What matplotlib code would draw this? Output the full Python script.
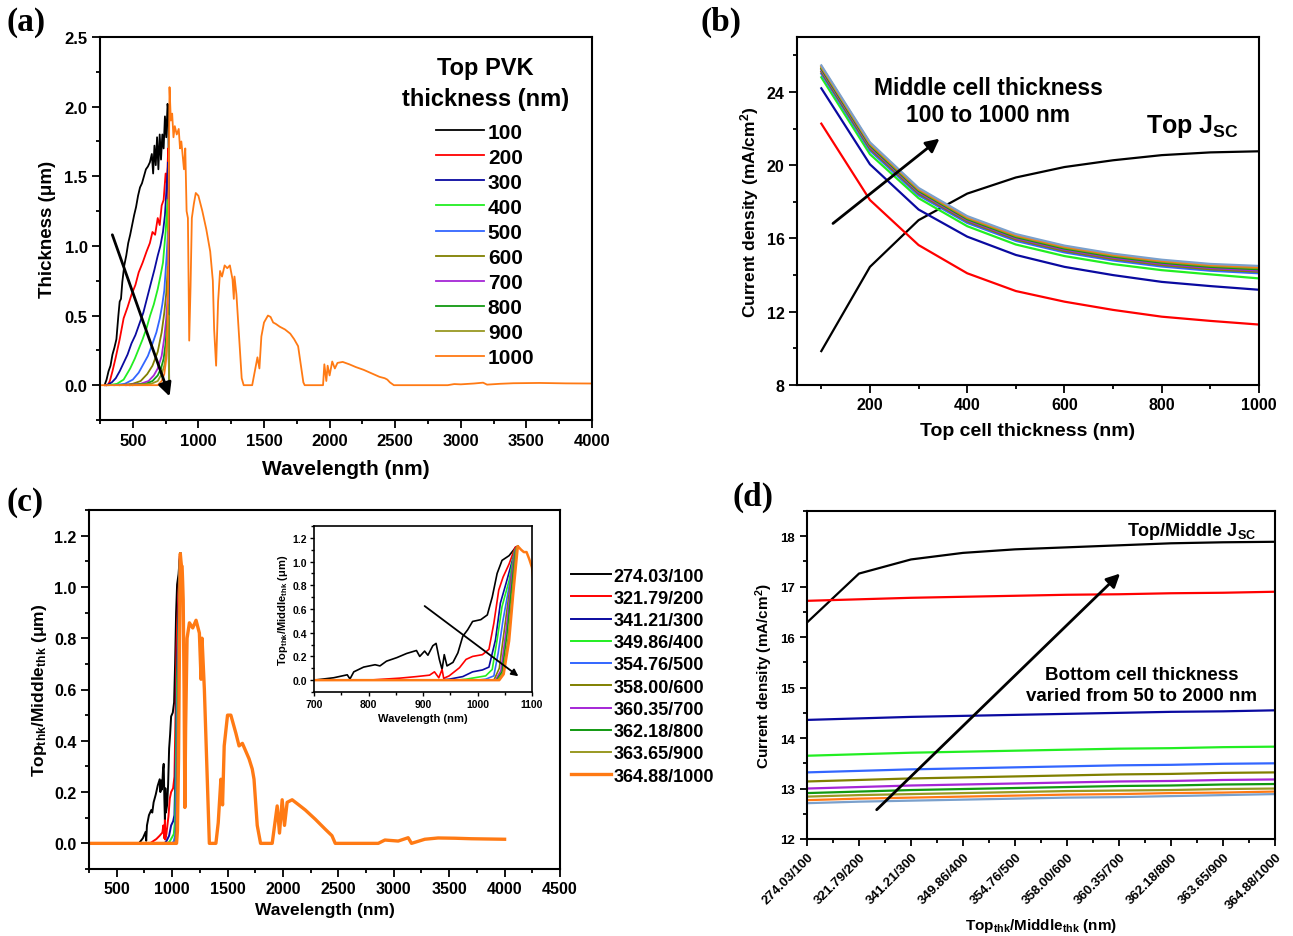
import matplotlib
matplotlib.use("Agg")
import matplotlib.pyplot as plt
from matplotlib.ticker import MultipleLocator

plt.rcParams["font.family"] = ["Liberation Sans", "DejaVu Sans"]
plt.rcParams["font.weight"] = "bold"
plt.rcParams["axes.labelweight"] = "bold"
plt.rcParams["axes.linewidth"] = 1.5
plt.rcParams["mathtext.fontset"] = "custom"
plt.rcParams["mathtext.rm"] = "Liberation Sans:bold"
plt.rcParams["mathtext.bf"] = "Liberation Sans:bold"
plt.rcParams["mathtext.it"] = "Liberation Sans:bold:italic"
plt.rcParams["mathtext.sf"] = "Liberation Sans:bold"

# ---------------- colours (Origin-like sequence)
colors = ["#000000", "#ff0000", "#0a0aa0", "#22ee22", "#3366ff", "#808000",
          "#a526d6", "#119911", "#999922", "#ff7a14", "#7aa0cc"]

# ---------------- (a) absorbed spectrum vs top PVK thickness
a_labels = ["100", "200", "300", "400", "500", "600", "700", "800", "900", "1000"]
a_wl_100 = [285, 300, 315, 330, 345, 360, 375, 390, 400, 410, 420, 435, 450, 465, 480, 495, 510, 525, 540, 555,
            570, 585, 600, 615, 630, 645, 655, 665, 675, 685, 695, 705, 715, 725, 735, 745, 755, 765, 772, 777]
a_val_100 = [0.0, 0.04, 0.10, 0.14, 0.22, 0.27, 0.33, 0.50, 0.60, 0.62, 0.74, 0.86, 0.93, 1.02, 1.08, 1.15, 1.22,
             1.28, 1.36, 1.42, 1.45, 1.50, 1.55, 1.57, 1.60, 1.66, 1.52, 1.72, 1.58, 1.78, 1.55, 1.80, 1.62, 1.80,
             1.70, 1.93, 1.78, 2.02, 1.96, 0.0]
a_wl_200 = [290, 310, 325, 345, 370, 400, 430, 460, 490, 520, 545, 575, 605, 630, 650, 670, 690, 705, 720, 735,
            750, 760, 770, 777]
a_val_200 = [0.0, 0.0, 0.03, 0.10, 0.20, 0.33, 0.48, 0.56, 0.65, 0.72, 0.81, 0.88, 0.96, 1.02, 1.10, 1.08, 1.20,
             1.15, 1.29, 1.33, 1.52, 1.45, 1.70, 0.0]
a_wl_300 = [300, 340, 370, 400, 430, 460, 490, 520, 550, 580, 610, 640, 665, 690, 710, 730, 745, 758, 770, 777]
a_val_300 = [0.0, 0.02, 0.05, 0.10, 0.16, 0.22, 0.30, 0.36, 0.44, 0.52, 0.63, 0.74, 0.83, 0.93, 1.00, 1.10, 1.22,
             1.43, 1.60, 0.0]
a_wl_400 = [320, 380, 430, 480, 515, 545, 575, 605, 632, 660, 690, 710, 730, 750, 765, 777]
a_val_400 = [0.0, 0.01, 0.04, 0.12, 0.19, 0.26, 0.33, 0.41, 0.50, 0.58, 0.69, 0.78, 0.88, 1.10, 1.33, 0.0]
a_wl_500 = [360, 440, 500, 545, 580, 615, 647, 680, 706, 725, 740, 756, 768, 777]
a_val_500 = [0.0, 0.01, 0.04, 0.09, 0.15, 0.21, 0.29, 0.38, 0.48, 0.58, 0.68, 0.90, 1.10, 0.0]
a_wl_600 = [400, 500, 560, 610, 650, 690, 720, 740, 755, 767, 777]
a_val_600 = [0.0, 0.01, 0.03, 0.08, 0.14, 0.24, 0.38, 0.52, 0.66, 0.85, 0.0]
a_wl_700 = [450, 560, 620, 660, 690, 720, 740, 755, 767, 777]
a_val_700 = [0.0, 0.01, 0.03, 0.07, 0.12, 0.21, 0.34, 0.48, 0.65, 0.0]
a_wl_800 = [480, 600, 650, 690, 715, 735, 750, 762, 770, 777]
a_val_800 = [0.0, 0.01, 0.03, 0.07, 0.12, 0.19, 0.30, 0.45, 0.58, 0.0]
a_wl_900 = [500, 640, 690, 720, 740, 753, 764, 772, 777]
a_val_900 = [0.0, 0.01, 0.03, 0.08, 0.14, 0.22, 0.36, 0.50, 0.0]
a_wl_1000 = [265, 690, 720, 740, 755, 765, 770, 775, 780, 790, 800, 810, 820, 835, 850, 860, 870, 880, 890, 900,
             910, 920, 930, 940, 950, 965, 980, 1000, 1030, 1060, 1090, 1110, 1120, 1135, 1150, 1165, 1180, 1200,
             1220, 1240, 1260, 1270, 1275, 1290, 1310, 1330, 1345, 1410, 1430, 1450, 1465, 1480, 1500, 1530,
             1550, 1570, 1590, 1620, 1660, 1700, 1730, 1760, 1780, 1800, 1810, 1950, 1960, 1975, 1985, 2000,
             2020, 2040, 2060, 2100, 2150, 2200, 2260, 2320, 2380, 2420, 2440, 2460, 2490, 2900, 2950, 3000,
             3100, 3170, 3200, 3300, 3400, 3500, 3600, 3800, 4000]
a_val_1000 = [0.0, 0.0, 0.03, 0.08, 0.19, 0.45, 0.80, 1.60, 2.14, 1.90, 1.95, 1.78, 1.86, 1.80, 1.84, 1.70, 1.75,
              1.65, 1.55, 1.70, 1.25, 1.20, 0.32, 0.70, 1.20, 1.30, 1.38, 1.36, 1.25, 1.12, 0.96, 0.75, 0.40,
              0.14, 0.60, 0.82, 0.78, 0.86, 0.84, 0.86, 0.76, 0.62, 0.78, 0.65, 0.35, 0.05, 0.0, 0.0, 0.10, 0.20,
              0.12, 0.35, 0.45, 0.50, 0.49, 0.45, 0.44, 0.42, 0.40, 0.37, 0.33, 0.28, 0.15, 0.02, 0.0, 0.0, 0.15,
              0.03, 0.14, 0.07, 0.17, 0.12, 0.16, 0.167, 0.15, 0.13, 0.11, 0.085, 0.06, 0.05, 0.04, 0.02, 0.0,
              0.0, 0.008, 0.006, 0.012, 0.018, 0.004, 0.01, 0.014, 0.015, 0.016, 0.013, 0.012]

# ---------------- (b) current density vs top cell thickness
b_top_thk = [100, 200, 300, 400, 500, 600, 700, 800, 900, 1000]
b_top_jsc = [9.85, 14.45, 17.0, 18.45, 19.33, 19.9, 20.27, 20.55, 20.7, 20.76]
b_mid_100 = [22.27, 18.1, 15.64, 14.1, 13.13, 12.55, 12.1, 11.73, 11.5, 11.3]
b_mid_200 = [24.2, 20.05, 17.58, 16.1, 15.1, 14.45, 14.0, 13.63, 13.4, 13.2]
b_mid_300 = [24.8, 20.6, 18.2, 16.67, 15.67, 15.04, 14.6, 14.27, 14.04, 13.82]
b_mid_400 = [25.0, 20.8, 18.36, 16.85, 15.87, 15.24, 14.8, 14.47, 14.24, 14.1]
b_mid_500 = [25.1, 20.9, 18.45, 16.93, 15.95, 15.32, 14.88, 14.55, 14.32, 14.18]
b_mid_600 = [25.2, 21.0, 18.53, 17.0, 16.02, 15.39, 14.95, 14.62, 14.39, 14.25]
b_mid_700 = [25.28, 21.08, 18.6, 17.06, 16.08, 15.45, 15.01, 14.68, 14.45, 14.32]
b_mid_800 = [25.35, 21.15, 18.66, 17.12, 16.14, 15.51, 15.07, 14.74, 14.51, 14.38]
b_mid_900 = [25.4, 21.2, 18.71, 17.17, 16.19, 15.56, 15.12, 14.79, 14.56, 14.44]
b_mid_1000 = [25.45, 21.25, 18.76, 17.22, 16.24, 15.61, 15.17, 14.84, 14.61, 14.5]

# ---------------- (c) transmitted spectrum, top/middle thickness pairs
c_labels = ["274.03/100", "321.79/200", "341.21/300", "349.86/400", "354.76/500",
            "358.00/600", "360.35/700", "362.18/800", "363.65/900", "364.88/1000"]
c_wl_1 = [250, 700, 736, 761, 766, 773, 791, 812, 821, 833, 852, 870, 888, 894, 903, 909, 918, 924, 930, 935,
          939, 944, 955, 964, 973, 982, 991, 1006, 1018, 1027, 1036, 1045, 1058, 1070, 1074]
c_val_1 = [0, 0.0, 0.02, 0.045, 0.01, 0.07, 0.11, 0.13, 0.12, 0.16, 0.19, 0.225, 0.25, 0.20, 0.245, 0.21, 0.29,
           0.31, 0.175, 0.09, 0.215, 0.12, 0.15, 0.23, 0.37, 0.425, 0.495, 0.51, 0.55, 0.70, 0.90, 1.01, 1.05,
           1.12, 1.13]
c_wl_2 = [250, 800, 858, 888, 912, 921, 929, 935, 938, 948, 967, 979, 991, 1009, 1021, 1030, 1039, 1047, 1058,
          1069, 1074]
c_val_2 = [0, 0.0, 0.017, 0.03, 0.042, 0.07, 0.02, 0.09, 0.015, 0.036, 0.105, 0.175, 0.20, 0.215, 0.26, 0.48,
           0.76, 0.87, 0.98, 1.12, 1.13]
c_wl_3 = [250, 930, 948, 973, 991, 1009, 1021, 1033, 1042, 1052, 1067, 1074]
c_val_3 = [0, 0.0, 0.008, 0.03, 0.07, 0.086, 0.11, 0.34, 0.65, 0.81, 1.06, 1.13]
c_wl_4 = [250, 960, 979, 1015, 1027, 1036, 1045, 1058, 1068, 1074]
c_val_4 = [0, 0.0, 0.008, 0.036, 0.09, 0.34, 0.62, 0.84, 1.09, 1.13]
c_wl_5 = [250, 1000, 1015, 1030, 1038, 1047, 1058, 1069, 1074]
c_val_5 = [0, 0.0, 0.008, 0.036, 0.23, 0.51, 0.79, 1.09, 1.13]
c_wl_6 = [250, 1030, 1040, 1050, 1060, 1069, 1074]
c_val_6 = [0, 0.0, 0.10, 0.45, 0.80, 1.10, 1.13]
c_wl_7 = [250, 1033, 1043, 1052, 1061, 1069, 1074]
c_val_7 = [0, 0.0, 0.08, 0.40, 0.78, 1.10, 1.13]
c_wl_8 = [250, 1035, 1045, 1054, 1062, 1070, 1074]
c_val_8 = [0, 0.0, 0.07, 0.38, 0.75, 1.10, 1.13]
c_wl_9 = [250, 1037, 1047, 1056, 1064, 1071, 1074]
c_val_9 = [0, 0.0, 0.06, 0.35, 0.74, 1.11, 1.13]
c_wl_10 = [250, 1040, 1048, 1058, 1066, 1074, 1080, 1085, 1090, 1095, 1100, 1108, 1115, 1122, 1135, 1156, 1186,
           1216, 1246, 1261, 1270, 1291, 1315, 1336, 1395, 1416, 1440, 1455, 1470, 1500, 1530, 1575, 1604, 1634,
           1694, 1723, 1739, 1768, 1798, 1903, 1948, 1969, 1993, 2014, 2038, 2083, 2143, 2202, 2292, 2382, 2442,
           2472, 2860, 2920, 3040, 3130, 3160, 3280, 3400, 3550, 3700, 4000]
c_val_10 = [0, 0.0, 0.05, 0.33, 0.75, 1.13, 1.10, 1.08, 1.08, 1.02, 0.95, 0.60, 0.14, 0.45, 0.80, 0.86, 0.84,
            0.87, 0.82, 0.64, 0.80, 0.60, 0.28, 0.0, 0.0, 0.08, 0.25, 0.15, 0.38, 0.50, 0.50, 0.43, 0.38, 0.39,
            0.33, 0.29, 0.25, 0.07, 0.0, 0.0, 0.146, 0.04, 0.17, 0.07, 0.16, 0.17, 0.15, 0.13, 0.094, 0.055,
            0.03, 0.0, 0.0, 0.013, 0.009, 0.022, 0.0, 0.016, 0.021, 0.02, 0.018, 0.016]

# ---------------- (d) current density vs top/middle pair, bottom cell thickness varied
d_top_mid_jsc = [16.29, 17.26, 17.54, 17.67, 17.74, 17.78, 17.82, 17.86, 17.88, 17.89]
d_bot_1 = [16.72, 16.75, 16.78, 16.80, 16.82, 16.84, 16.85, 16.87, 16.88, 16.90]
d_bot_2 = [14.36, 14.39, 14.42, 14.44, 14.46, 14.48, 14.50, 14.52, 14.53, 14.55]
d_bot_3 = [13.65, 13.68, 13.71, 13.73, 13.75, 13.77, 13.79, 13.80, 13.82, 13.83]
d_bot_4 = [13.32, 13.35, 13.38, 13.40, 13.42, 13.44, 13.46, 13.47, 13.49, 13.50]
d_bot_5 = [13.14, 13.17, 13.20, 13.22, 13.24, 13.26, 13.28, 13.29, 13.31, 13.32]
d_bot_6 = [13.00, 13.03, 13.06, 13.08, 13.10, 13.12, 13.14, 13.15, 13.17, 13.18]
d_bot_7 = [12.91, 12.94, 12.97, 12.99, 13.01, 13.03, 13.05, 13.06, 13.08, 13.09]
d_bot_8 = [12.84, 12.87, 12.89, 12.91, 12.93, 12.95, 12.96, 12.97, 12.99, 13.00]
d_bot_9 = [12.77, 12.80, 12.82, 12.84, 12.86, 12.88, 12.89, 12.91, 12.92, 12.94]
d_bot_10 = [12.71, 12.74, 12.76, 12.78, 12.80, 12.82, 12.83, 12.85, 12.87, 12.89]


def style_axes(ax, xmaj, xmin, ymaj, ymin, size=10):
    ax.xaxis.set_major_locator(MultipleLocator(xmaj))
    ax.xaxis.set_minor_locator(MultipleLocator(xmin))
    ax.yaxis.set_major_locator(MultipleLocator(ymaj))
    ax.yaxis.set_minor_locator(MultipleLocator(ymin))
    ax.tick_params(which="both", direction="out", top=False, right=False, width=1.3, labelsize=size)
    ax.tick_params(which="major", length=5.5)
    ax.tick_params(which="minor", length=3)


def arrow(ax, start, end, lw=2.0, ms=20):
    ax.annotate("", xy=end, xytext=start,
                arrowprops=dict(arrowstyle="-|>", color="k", lw=lw, mutation_scale=ms, shrinkA=0, shrinkB=0))


W, H = 1293, 937
fig = plt.figure(figsize=(W / 100, H / 100), dpi=100)


def rect(l, r, t, b):
    return [l / W, (H - b) / H, (r - l) / W, (b - t) / H]


# ================= (a)
ax_a = fig.add_axes(rect(100, 592, 38, 421))
a_sets = [(a_wl_100, a_val_100), (a_wl_200, a_val_200), (a_wl_300, a_val_300), (a_wl_400, a_val_400),
          (a_wl_500, a_val_500), (a_wl_600, a_val_600), (a_wl_700, a_val_700), (a_wl_800, a_val_800),
          (a_wl_900, a_val_900), (a_wl_1000, a_val_1000)]
for (wl, val), lab, col in zip(a_sets, a_labels, colors[:10]):
    ax_a.plot(wl, val, color=col, lw=1.3, label=lab)
ax_a.set_xlim(250, 4000)
ax_a.set_ylim(-0.25, 2.5)
style_axes(ax_a, 500, 250, 0.5, 0.25, size=12)
ax_a.set_xlabel("Wavelength (nm)", fontsize=15, labelpad=8)
ax_a.set_ylabel("Thickness (μm)", fontsize=13.5, labelpad=6)
leg_a = ax_a.legend(title="Top PVK\nthickness (nm)", loc="upper left", bbox_to_anchor=(0.596, 0.972),
                    borderaxespad=0, frameon=False, fontsize=15, title_fontsize=17, handlelength=2.3,
                    labelspacing=0.29, handletextpad=0.2)
leg_a.get_title().set_fontweight("bold")
leg_a.get_title().set_multialignment("center")
leg_a.get_title().set_linespacing(1.45)
leg_a._legend_box.align = "center"
leg_a._legend_box.sep = 9
arrow(ax_a, (344, 1.08), (780, -0.08))

# ================= (b)
ax_b = fig.add_axes(rect(797, 1259, 38, 386))
b_sets = [b_top_jsc, b_mid_100, b_mid_200, b_mid_300, b_mid_400, b_mid_500, b_mid_600, b_mid_700,
          b_mid_800, b_mid_900, b_mid_1000]
for val, col in zip(b_sets, colors):
    ax_b.plot(b_top_thk, val, color=col, lw=1.6)
ax_b.set_xlim(50, 1000)
ax_b.set_ylim(8, 27)
style_axes(ax_b, 200, 100, 4, 2, size=11.5)
ax_b.set_xlabel("Top cell thickness (nm)", fontsize=14, labelpad=7)
ax_b.set_ylabel("Current density (mA/cm$^2$)", fontsize=12.5)
ax_b.text(443, 23.5, "Middle cell thickness\n100 to 1000 nm", ha="center", va="center", fontsize=16.5,
          fontweight="bold", linespacing=1.25)
ax_b.text(862, 22.15, "Top J$_{\\mathrm{SC}}$", ha="center", va="center", fontsize=18, fontweight="bold")
arrow(ax_b, (124, 16.82), (343, 21.45))

# ================= (c)
ax_c = fig.add_axes(rect(89, 560, 511, 870))
c_sets = [(c_wl_1, c_val_1), (c_wl_2, c_val_2), (c_wl_3, c_val_3), (c_wl_4, c_val_4), (c_wl_5, c_val_5),
          (c_wl_6, c_val_6), (c_wl_7, c_val_7), (c_wl_8, c_val_8), (c_wl_9, c_val_9), (c_wl_10, c_val_10)]
for i, ((wl, val), lab) in enumerate(zip(c_sets, c_labels)):
    ax_c.plot(wl, val, color=colors[i], lw=2.4 if i == 9 else 1.4, label=lab)
ax_c.set_xlim(250, 4500)
ax_c.set_ylim(-0.1, 1.3)
style_axes(ax_c, 500, 250, 0.2, 0.1, size=11.5)
ax_c.set_xlabel("Wavelength (nm)", fontsize=12.5)
ax_c.set_ylabel("Top$_{\\mathrm{thk}}$/Middle$_{\\mathrm{thk}}$ (μm)", fontsize=12.5)
ax_c.legend(loc="upper left", bbox_to_anchor=(1.0, 0.87), frameon=False, fontsize=13, handlelength=2.2,
            labelspacing=0.29, handletextpad=0.15, borderaxespad=0.2)

ax_in = fig.add_axes(rect(314, 532, 527, 693))
for i, (wl, val) in enumerate(c_sets):
    ax_in.plot(wl, val, color=colors[i], lw=1.8 if i == 9 else 1.2)
ax_in.set_xlim(700, 1100)
ax_in.set_ylim(-0.1, 1.3)
style_axes(ax_in, 100, 50, 0.2, 0.1, size=7.5)
ax_in.tick_params(which="major", length=3, width=1, pad=2)
ax_in.tick_params(which="minor", length=2, width=1)
for s in ax_in.spines.values():
    s.set_linewidth(1.2)
ax_in.set_xlabel("Wavelength (nm)", fontsize=8, labelpad=3)
ax_in.set_ylabel("Top$_{\\mathrm{thk}}$/Middle$_{\\mathrm{thk}}$ (μm)", fontsize=8, labelpad=2)
arrow(ax_in, (903, 0.625), (1075, 0.033), lw=1.3, ms=10)

# ================= (d)
ax_d = fig.add_axes(rect(807, 1275, 512, 840))
d_sets = [d_top_mid_jsc, d_bot_1, d_bot_2, d_bot_3, d_bot_4, d_bot_5, d_bot_6, d_bot_7, d_bot_8, d_bot_9,
          d_bot_10]
for val, col in zip(d_sets, colors):
    ax_d.plot(c_labels, val, color=col, lw=1.6)
ax_d.set_xlim(0, len(c_labels) - 1)
ax_d.set_ylim(12, 18.5)
ax_d.xaxis.set_minor_locator(MultipleLocator(0.5))
ax_d.yaxis.set_major_locator(MultipleLocator(1))
ax_d.yaxis.set_minor_locator(MultipleLocator(0.5))
ax_d.tick_params(which="both", direction="out", top=False, right=False, width=1.3, labelsize=9.5)
ax_d.tick_params(which="major", length=5)
ax_d.tick_params(which="minor", length=3)
plt.setp(ax_d.get_xticklabels(), rotation=45, ha="right", rotation_mode="anchor")
ax_d.set_xlabel("Top$_{\\mathrm{thk}}$/Middle$_{\\mathrm{thk}}$ (nm)", fontsize=11)
ax_d.xaxis.set_label_coords(0.5, -0.262)
ax_d.xaxis.label.set_va("center")
ax_d.set_ylabel("Current density (mA/cm$^2$)", fontsize=11)
ax_d.text(7.4, 18.12, "Top/Middle J$_{\\mathrm{SC}}$", ha="center", va="center", fontsize=13,
          fontweight="bold")
ax_d.text(6.44, 15.05, "Bottom cell thickness\nvaried from 50 to 2000 nm", ha="center", va="center",
          fontsize=13.5, fontweight="bold", linespacing=1.25)
arrow(ax_d, (1.34, 12.58), (6.02, 17.26))

# ================= panel letters
for x, y, s in [(6, 22, "(a)"), (700, 22, "(b)"), (6, 502, "(c)"), (733, 497, "(d)")]:
    fig.text(x / W, 1 - y / H, s, fontsize=24, fontweight="bold", family="Liberation Serif",
             ha="left", va="center")

fig.savefig("out.png", dpi=100)
